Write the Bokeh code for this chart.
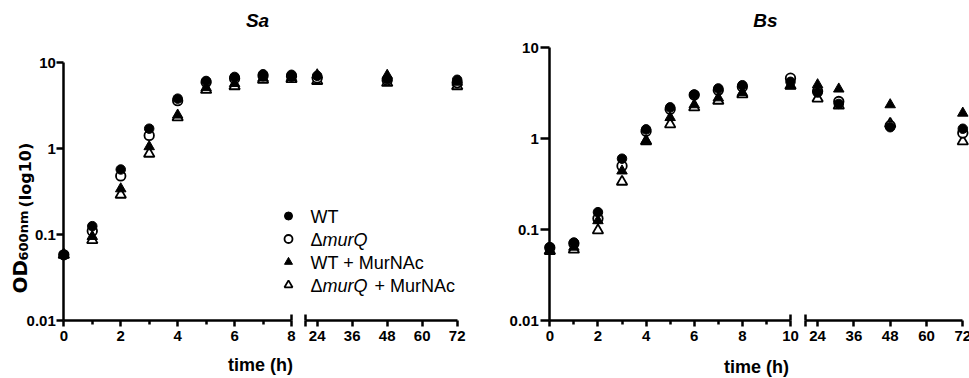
import math
from bokeh.plotting import figure
from bokeh.layouts import row
from bokeh.core.properties import value
from bokeh.models import (Range1d, LinearAxis, FixedTicker, CustomJSTickFormatter,
                          Label, LabelSet, Legend, LegendItem, ColumnDataSource)
from bokeh.embed import file_html
from bokeh.resources import INLINE

# ---------------- data ----------------
series_names = ["WT", "ΔmurQ", "WT + MurNAc", "ΔmurQ + MurNAc"]
y_ticks = [0.01, 0.1, 1, 10]

# S. aureus (Sa)
sa_t_early = [0, 1, 2, 3, 4, 5, 6, 7, 8]
sa_t_late = [24, 48, 72]
sa_wt_early = [0.058, 0.125, 0.57, 1.70, 3.8, 6.1, 6.8, 7.3, 7.2]
sa_wt_late = [7.0, 6.4, 6.3]
sa_murq_early = [0.058, 0.11, 0.48, 1.42, 3.6, 5.9, 6.5, 7.0, 6.9]
sa_murq_late = [6.6, 6.2, 5.8]
sa_wtm_early = [0.058, 0.095, 0.34, 1.05, 2.45, 5.1, 5.7, 6.6, 6.7]
sa_wtm_late = [7.2, 7.1, 5.9]
sa_murqm_early = [0.058, 0.086, 0.29, 0.87, 2.3, 4.8, 5.3, 6.3, 6.4]
sa_murqm_late = [6.1, 5.8, 5.3]
sa_early_ticks = [0, 2, 4, 6, 8]
sa_early_minor = [1, 3, 5, 7]

# B. subtilis (Bs)
bs_t_early = [0, 1, 2, 3, 4, 5, 6, 7, 8, 10]
bs_t_late = [24, 31, 48, 72]
bs_wt_early = [0.064, 0.072, 0.155, 0.60, 1.26, 2.2, 3.05, 3.55, 3.85, 4.2]
bs_wt_late = [3.2, 2.4, 1.33, 1.28]
bs_murq_early = [0.063, 0.070, 0.132, 0.50, 1.2, 2.1, 3.0, 3.4, 3.7, 4.6]
bs_murq_late = [3.3, 2.55, 1.38, 1.15]
bs_wtm_early = [0.059, 0.064, 0.125, 0.44, 0.95, 1.7, 2.35, 2.8, 3.2, 3.8]
bs_wtm_late = [3.9, 3.5, 2.35, 1.9]
bs_murqm_early = [0.058, 0.060, 0.098, 0.335, 0.93, 1.43, 2.2, 2.6, 3.05, 3.8]
bs_murqm_late = [2.75, 2.3, 1.45, 0.93]
bs_early_ticks = [0, 2, 4, 6, 8, 10]
bs_early_minor = [1, 3, 5, 7, 9]

late_ticks = [24, 36, 48, 60, 72]
late_start = 20

# ---------------- layout / styling ----------------
FONT = "Liberation Sans"
MARKERS = [("circle", "black"), ("circle", "white"),
           ("triangle", "black"), ("triangle", "white")]
DRAW_ORDER = [3, 1, 2, 0]
H = 378
TOP = 13            # frame spans y = 13 .. 378 (x axis drawn at y = 320)
AXIS_Y = 320
LIFT = 6            # correction for the label baseline placement


def axis_lines(ax):
    ax.axis_line_width = 2.5
    ax.axis_line_color = "black"
    ax.major_tick_line_width = 2.5
    ax.major_tick_line_color = "black"
    ax.minor_tick_line_width = 2.5
    ax.minor_tick_line_color = "black"
    ax.major_label_text_font_size = "0px"
    ax.major_label_standoff = 0
    ax.formatter = CustomJSTickFormatter(code="return '';")


def x_axis_in_frame(ax, ticks, minor, bounds):
    """x axis kept in the 'above' panel but drawn at y = 0.01 with ticks pointing down."""
    axis_lines(ax)
    ax.fixed_location = 0.01
    ax.ticker = FixedTicker(ticks=ticks, minor_ticks=minor)
    ax.bounds = bounds
    ax.major_tick_out = 0
    ax.major_tick_in = 6
    ax.minor_tick_out = 0
    ax.minor_tick_in = 4


def cap_axis(p, tick, range_name):
    cap = LinearAxis(x_range_name=range_name, ticker=FixedTicker(ticks=[tick]),
                     fixed_location=0.01)
    axis_lines(cap)
    cap.axis_line_color = None
    cap.minor_tick_line_color = None
    cap.major_tick_in = 0
    cap.major_tick_out = 6
    p.add_layout(cap, "above")


def tick_labels(p, xs, ys, texts, x_off, y_off, align, baseline, range_name="default"):
    src = ColumnDataSource(dict(x=xs, y=ys, text=texts))
    p.add_layout(LabelSet(x="x", y="y", text="text", source=src, x_offset=x_off,
                          y_offset=y_off, x_range_name=range_name,
                          text_font=value(FONT), text_font_size=value("15px"),
                          text_font_style=value("bold"), text_align=value(align),
                          text_baseline=value(baseline), text_color=value("black")))


def add_label(p, text, sx, sy, size, style="normal", align="left",
              angle=0.0, font=FONT):
    if angle:
        sx -= LIFT
    else:
        sy += LIFT
    p.add_layout(Label(x=sx, y=sy, x_units="screen", y_units="screen", text=text,
                       text_font=font, text_font_size=f"{size}px",
                       text_font_style=style, text_align=align,
                       text_baseline="alphabetic", angle=angle,
                       text_color="black"))


def panel(width, xr_early, xr_late, px_per_decade, t_early, t_late, early_vals,
          late_vals, early_ticks, early_minor, y_tick_out, ylab_off):
    ylo = 10 ** (-2 - (H - AXIS_Y) / px_per_decade)
    yhi = 10 ** (-2 + (AXIS_Y - TOP) / px_per_decade)
    p = figure(width=width, height=H, y_axis_type="log", y_range=Range1d(ylo, yhi),
               x_range=Range1d(*xr_early), toolbar_location=None,
               output_backend="svg", title=None, x_axis_location="above",
               y_axis_location="left", min_border_left=10, min_border_right=0,
               min_border_top=TOP, min_border_bottom=0)
    p.extra_x_ranges = {"late": Range1d(*xr_late)}
    p.outline_line_color = None
    p.xgrid.visible = False
    p.ygrid.visible = False
    p.background_fill_color = "white"
    p.border_fill_color = "white"

    # y axis at t = 0
    yax = p.yaxis[0]
    axis_lines(yax)
    yax.fixed_location = 0
    yax.ticker = FixedTicker(ticks=y_ticks)
    yax.bounds = (y_ticks[0], y_ticks[-1])
    yax.major_tick_out = y_tick_out
    yax.major_tick_in = 0
    tick_labels(p, [0] * len(y_ticks), y_ticks, [str(v) for v in y_ticks],
                ylab_off, 0, "right", "middle")

    # early x segment
    x_axis_in_frame(p.xaxis[0], early_ticks, early_minor, (0, early_ticks[-1]))
    tick_labels(p, early_ticks, [0.01] * len(early_ticks),
                [str(v) for v in early_ticks], 0, -10, "center", "top")

    # late x segment
    xl = LinearAxis(x_range_name="late")
    x_axis_in_frame(xl, [late_start] + late_ticks, [], (late_start, late_ticks[-1]))
    p.add_layout(xl, "above")
    tick_labels(p, late_ticks, [0.01] * len(late_ticks),
                [str(v) for v in late_ticks], 0, -10, "center", "top", "late")

    # axis-break caps
    cap_axis(p, early_ticks[-1], "default")
    cap_axis(p, late_start, "late")

    rs = {}
    for i in DRAW_ORDER:
        marker, fill = MARKERS[i]
        size = 9.5 if marker == "circle" else 10.5
        lw = 1.0 if fill == "black" else 1.8
        rs[i] = p.scatter(t_early, early_vals[i], marker=marker, size=size,
                          fill_color=fill, line_color="black", line_width=lw)
        p.scatter(t_late, late_vals[i], marker=marker, size=size, fill_color=fill,
                  line_color="black", line_width=lw, x_range_name="late")
    return p, rs


# ---------------- Sa panel ----------------
sa_early = [sa_wt_early, sa_murq_early, sa_wtm_early, sa_murqm_early]
sa_late = [sa_wt_late, sa_murq_late, sa_wtm_late, sa_murqm_late]
p1, r1 = panel(480, (-1.873, 14.64), (-81.15, 79.99), 86.0, sa_t_early, sa_t_late,
               sa_early, sa_late, sa_early_ticks, sa_early_minor, 7, -8)

add_label(p1, "Sa", 247, 352, 19, style="bold italic", align="center")
add_label(p1, "time (h)", 250, 8, 18, style="bold", align="center")
add_label(p1, "OD", 15, 85, 20, style="bold", angle=math.pi / 2, font="DejaVu Sans")
add_label(p1, "600nm", 18.5, 118, 13, style="bold", angle=math.pi / 2, font="DejaVu Sans")
add_label(p1, "(log10)", 21, 171, 16, style="bold", angle=math.pi / 2, font="DejaVu Sans")

legend = Legend(items=[LegendItem(label=" ", renderers=[r1[i]]) for i in range(4)],
                location=(268, 82.5), glyph_width=20, glyph_height=23,
                label_height=23, spacing=0, padding=0, margin=0,
                label_text_font_size="12px", border_line_color=None,
                background_fill_alpha=0)
p1.add_layout(legend)

leg_x = 300
leg_base = [156, 133, 110, 87]
add_label(p1, "WT", leg_x, leg_base[0], 18)
add_label(p1, "Δ", leg_x, leg_base[1], 18)
add_label(p1, "murQ", leg_x + 12, leg_base[1], 18, style="italic")
add_label(p1, "WT + MurNAc", leg_x, leg_base[2], 18)
add_label(p1, "Δ", leg_x, leg_base[3], 18)
add_label(p1, "murQ", leg_x + 12, leg_base[3], 18, style="italic")
add_label(p1, "+ MurNAc", leg_x + 64, leg_base[3], 18)

# ---------------- Bs panel ----------------
bs_early = [bs_wt_early, bs_murq_early, bs_wtm_early, bs_murqm_early]
bs_late = [bs_wt_late, bs_murq_late, bs_wtm_late, bs_murqm_late]
p2, r2 = panel(489, (-2.464, 17.437), (-84.15, 74.22), 91.0, bs_t_early, bs_t_late,
               bs_early, bs_late, bs_early_ticks, bs_early_minor, 9, -11)
add_label(p2, "Bs", 275, 352, 19, style="bold italic", align="center")
add_label(p2, "time (h)", 266, 6, 18, style="bold", align="center")

layout = row(p1, p2)
open("out.html", "w").write(file_html(layout, INLINE))
